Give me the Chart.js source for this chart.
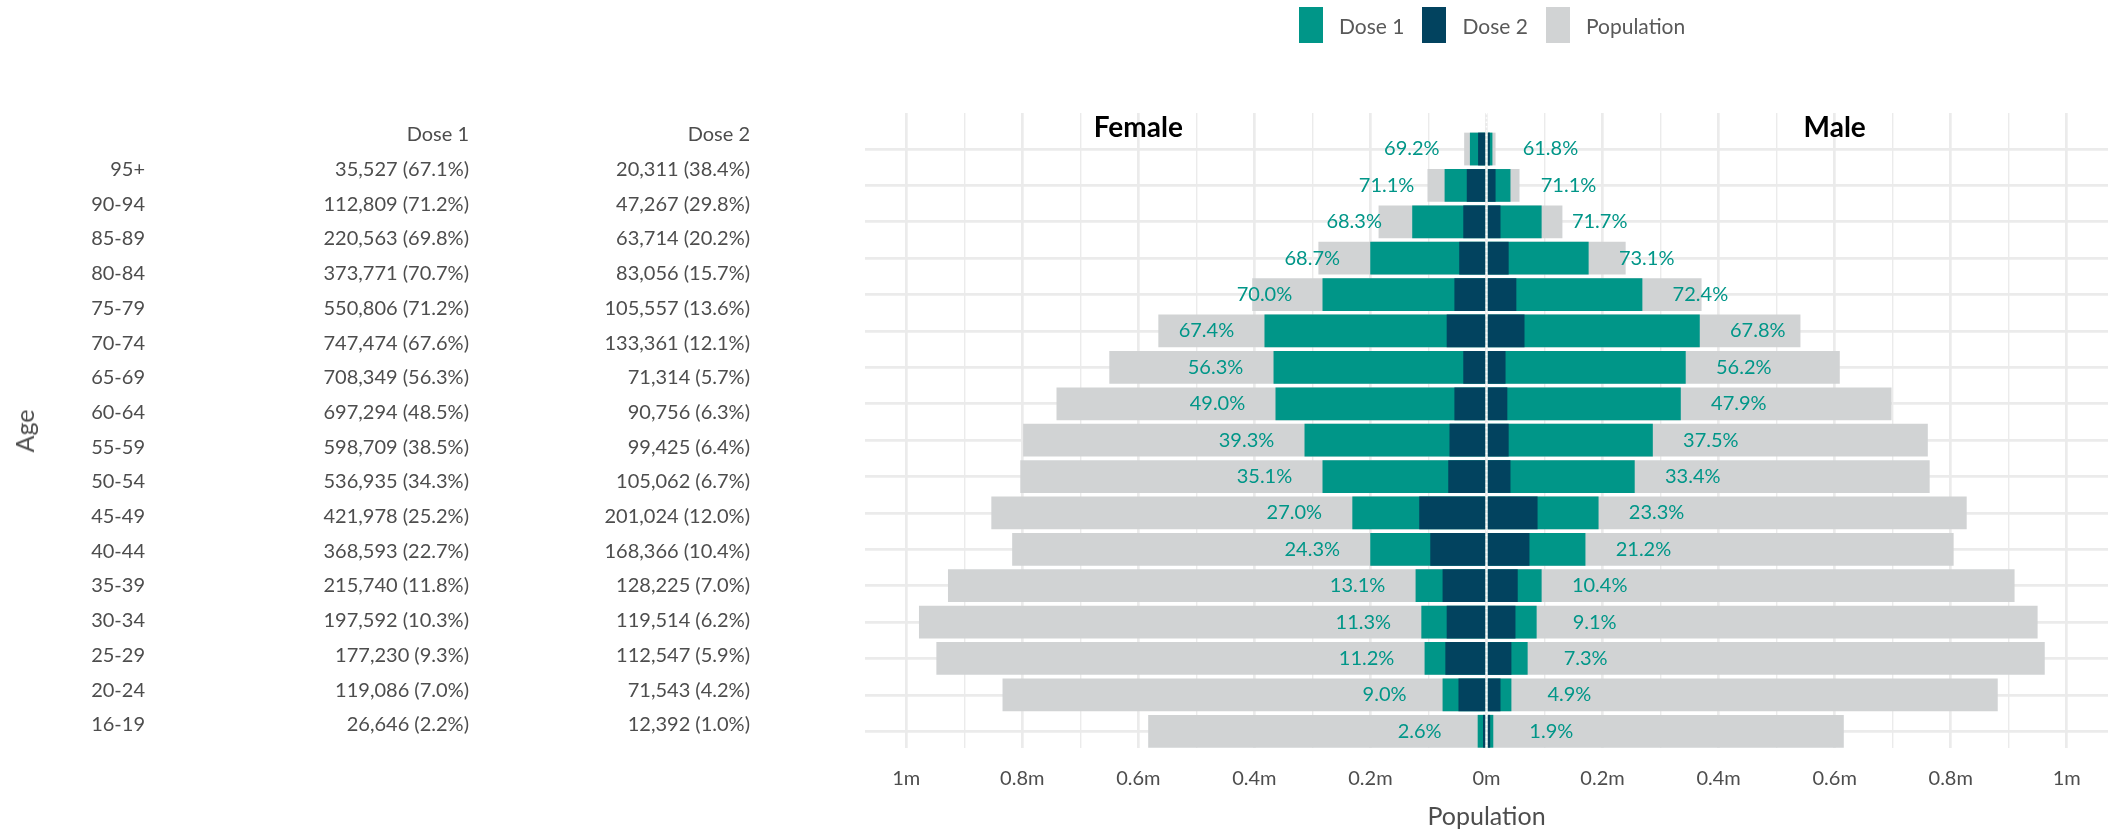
<!DOCTYPE html>
<html>
<head>
<meta charset="utf-8">
<script src="https://cdn.jsdelivr.net/npm/chart.js@4.4.1/dist/chart.umd.min.js"></script>
<style>
  body { margin: 0; background: #fff; font-family: Lato, sans-serif; color: #4d4d4d; }
  #wrap { position: relative; width: 2108px; height: 832px; overflow: hidden; }
  #chart { position: absolute; left: 0; top: 0; }
  .cell { position: absolute; width: 300px; font-size: 20px; line-height: 24px; white-space: nowrap; text-align: right; transform: translateY(-50%); }
  #ageTitle { position: absolute; left: 24px; top: 431px; font-size: 25px; transform: translate(-50%, -50%) rotate(-90deg); }
  #legend { position: absolute; left: 1299px; top: 7px; display: flex; align-items: center; font-size: 21px; color: #595959; }
  #legend .sw { width: 24px; height: 36px; margin-right: 16px; }
  #legend .lb { margin-right: 18px; }
</style>
</head>
<body>
<div id="wrap">
  <canvas id="chart" width="2108" height="832"></canvas>
  <div id="table"></div>
  <div id="ageTitle">Age</div>
  <div id="legend"></div>
</div>
<script>
// age groups, top to bottom
const ageGroups = ["95+", "90-94", "85-89", "80-84", "75-79", "70-74", "65-69", "60-64", "55-59",
  "50-54", "45-49", "40-44", "35-39", "30-34", "25-29", "20-24", "16-19"];

// table on the left
const dose1Total = [35527, 112809, 220563, 373771, 550806, 747474, 708349, 697294, 598709,
  536935, 421978, 368593, 215740, 197592, 177230, 119086, 26646];
const dose1Pct = [67.1, 71.2, 69.8, 70.7, 71.2, 67.6, 56.3, 48.5, 38.5, 34.3, 25.2, 22.7, 11.8, 10.3, 9.3, 7.0, 2.2];
const dose2Total = [20311, 47267, 63714, 83056, 105557, 133361, 71314, 90756, 99425,
  105062, 201024, 168366, 128225, 119514, 112547, 71543, 12392];
const dose2Pct = [38.4, 29.8, 20.2, 15.7, 13.6, 12.1, 5.7, 6.3, 6.4, 6.7, 12.0, 10.4, 7.0, 6.2, 5.9, 4.2, 1.0];

// pyramid values, millions
const femalePop = [0.0385, 0.1017, 0.186, 0.2897, 0.4037, 0.5655, 0.650, 0.741, 0.7985,
  0.8034, 0.8533, 0.8174, 0.928, 0.978, 0.948, 0.834, 0.583];
const malePop = [0.0156, 0.0569, 0.1308, 0.2398, 0.3706, 0.541, 0.6088, 0.698, 0.7605,
  0.7637, 0.8275, 0.805, 0.91, 0.9497, 0.962, 0.881, 0.6157];
const femaleDose1 = [0.0286, 0.0722, 0.128, 0.2003, 0.2826, 0.3826, 0.367, 0.3636, 0.3136,
  0.2826, 0.2312, 0.2003, 0.1222, 0.1123, 0.1067, 0.0757, 0.0152];
const maleDose1 = [0.0102, 0.0413, 0.095, 0.176, 0.2686, 0.3675, 0.3433, 0.3348, 0.2866,
  0.2554, 0.1931, 0.1705, 0.095, 0.0864, 0.0709, 0.0429, 0.0117];
const femaleDose2 = [0.0145, 0.034, 0.040, 0.047, 0.0553, 0.0686, 0.040, 0.0553, 0.0638,
  0.0659, 0.1159, 0.0969, 0.0757, 0.0686, 0.0709, 0.0483, 0.006];
const maleDose2 = [0.0058, 0.0156, 0.0241, 0.0382, 0.0514, 0.0655, 0.0328, 0.0359, 0.0382,
  0.0413, 0.088, 0.074, 0.0538, 0.0499, 0.0429, 0.0241, 0.0063];
const femalePct = [69.2, 71.1, 68.3, 68.7, 70.0, 67.4, 56.3, 49.0, 39.3, 35.1, 27.0, 24.3, 13.1, 11.3, 11.2, 9.0, 2.6];
const malePct = [61.8, 71.1, 71.7, 73.1, 72.4, 67.8, 56.2, 47.9, 37.5, 33.4, 23.3, 21.2, 10.4, 9.1, 7.3, 4.9, 1.9];

// x axis ticks
const majorTicks = [-1, -0.8, -0.6, -0.4, -0.2, 0, 0.2, 0.4, 0.6, 0.8, 1];
const minorTicks = [-0.9, -0.7, -0.5, -0.3, -0.1, 0.1, 0.3, 0.5, 0.7, 0.9];

const teal = "#009688";
const navy = "#02435f";
const grey = "#d1d3d4";
const gridColor = "#ebebeb";
const labelGap = 0.1;

// left table
const table = document.getElementById("table");
const addCell = (text, right, y) => {
  const d = document.createElement("div");
  d.className = "cell";
  d.textContent = text;
  d.style.left = (right - 300) + "px";
  d.style.top = y + "px";
  table.appendChild(d);
};
const fmt = (n, p) => n.toLocaleString("en-US") + " (" + p.toFixed(1) + "%)";
addCell("Dose 1", 469, 133);
addCell("Dose 2", 750, 133);
ageGroups.forEach((a, i) => {
  const y = 168 + i * 34.7;
  addCell(a, 145, y);
  addCell(fmt(dose1Total[i], dose1Pct[i]), 469, y);
  addCell(fmt(dose2Total[i], dose2Pct[i]), 750, y);
});

const bars = (female, male) => [
  ...female.map((v, i) => ({ x: -v, y: i })),
  ...male.map((v, i) => ({ x: v, y: i })),
];

const isMajor = v => Math.round(Math.abs(v) * 10) % 2 === 0;

// zero line, percent labels, Female / Male headings
const annotations = {
  id: "annotations",
  afterDatasetsDraw(chart) {
    const { ctx, chartArea, scales: { x, y } } = chart;
    ctx.save();
    const x0 = x.getPixelForValue(0);
    ctx.strokeStyle = "#fff";
    ctx.lineWidth = 1.5;
    ctx.setLineDash([1.5, 2.8]);
    ctx.beginPath();
    ctx.moveTo(x0, chartArea.top);
    ctx.lineTo(x0, chartArea.bottom);
    ctx.stroke();
    ctx.setLineDash([]);

    ctx.font = "20px Lato";
    ctx.fillStyle = teal;
    ctx.textAlign = "center";
    ctx.textBaseline = "middle";
    ageGroups.forEach((_, i) => {
      const yy = y.getPixelForValue(i);
      ctx.fillText(femalePct[i].toFixed(1) + "%", x.getPixelForValue(-(femaleDose1[i] + labelGap)), yy);
      ctx.fillText(malePct[i].toFixed(1) + "%", x.getPixelForValue(maleDose1[i] + labelGap), yy);
    });

    ctx.font = "bold 28px Lato";
    ctx.fillStyle = "#000";
    ctx.fillText("Female", x.getPixelForValue(-0.6), y.getPixelForValue(-0.58));
    ctx.fillText("Male", x.getPixelForValue(0.6), y.getPixelForValue(-0.58));
    ctx.restore();
  },
};

const common = { grouped: false, barPercentage: 0.9, categoryPercentage: 1, borderWidth: 0 };

const chart = new Chart(document.getElementById("chart"), {
  type: "bar",
  data: {
    datasets: [
      { label: "Dose 2", data: bars(femaleDose2, maleDose2), backgroundColor: navy, ...common },
      { label: "Dose 1", data: bars(femaleDose1, maleDose1), backgroundColor: teal, ...common },
      { label: "Population", data: bars(femalePop, malePop), backgroundColor: grey, ...common },
    ],
  },
  options: {
    indexAxis: "y",
    responsive: false,
    animation: false,
    devicePixelRatio: 1,
    layout: { padding: { left: 865, right: 0, top: 113, bottom: 0 } },
    plugins: { legend: { display: false }, tooltip: { enabled: false } },
    scales: {
      x: {
        type: "linear",
        min: -1.071,
        max: 1.071,
        afterBuildTicks: s => {
          s.ticks = [...majorTicks, ...minorTicks].sort((a, b) => a - b).map(v => ({ value: v }));
        },
        ticks: {
          autoSkip: false,
          maxRotation: 0,
          padding: 0,
          color: "#4d4d4d",
          font: { family: "Lato", size: 20 },
          callback: v => (isMajor(v) ? Math.round(Math.abs(v) * 10) / 10 + "m" : ""),
        },
        grid: {
          color: gridColor,
          lineWidth: c => (c.tick && !isMajor(c.tick.value) ? 1.4 : 2.7),
          drawTicks: true,
          tickLength: 19,
          tickColor: "rgba(0,0,0,0)",
        },
        border: { display: false },
        title: {
          display: true,
          text: "Population",
          color: "#4d4d4d",
          font: { family: "Lato", size: 25 },
          padding: { top: 11, bottom: 0 },
        },
      },
      y: {
        type: "linear",
        reverse: true,
        offset: false,
        min: -0.99,
        max: 16.46,
        afterBuildTicks: s => {
          s.ticks = ageGroups.map((_, i) => ({ value: i }));
        },
        ticks: { display: false },
        grid: { color: gridColor, lineWidth: 2.7, drawTicks: false, offset: false },
        border: { display: false },
      },
    },
  },
  plugins: [annotations],
});

// legend
const legend = document.getElementById("legend");
[["Dose 1", teal], ["Dose 2", navy], ["Population", grey]].forEach(([name, col]) => {
  const sw = document.createElement("div");
  sw.className = "sw";
  sw.style.background = col;
  const lb = document.createElement("div");
  lb.className = "lb";
  lb.textContent = name;
  legend.appendChild(sw);
  legend.appendChild(lb);
});
</script>
</body>
</html>
